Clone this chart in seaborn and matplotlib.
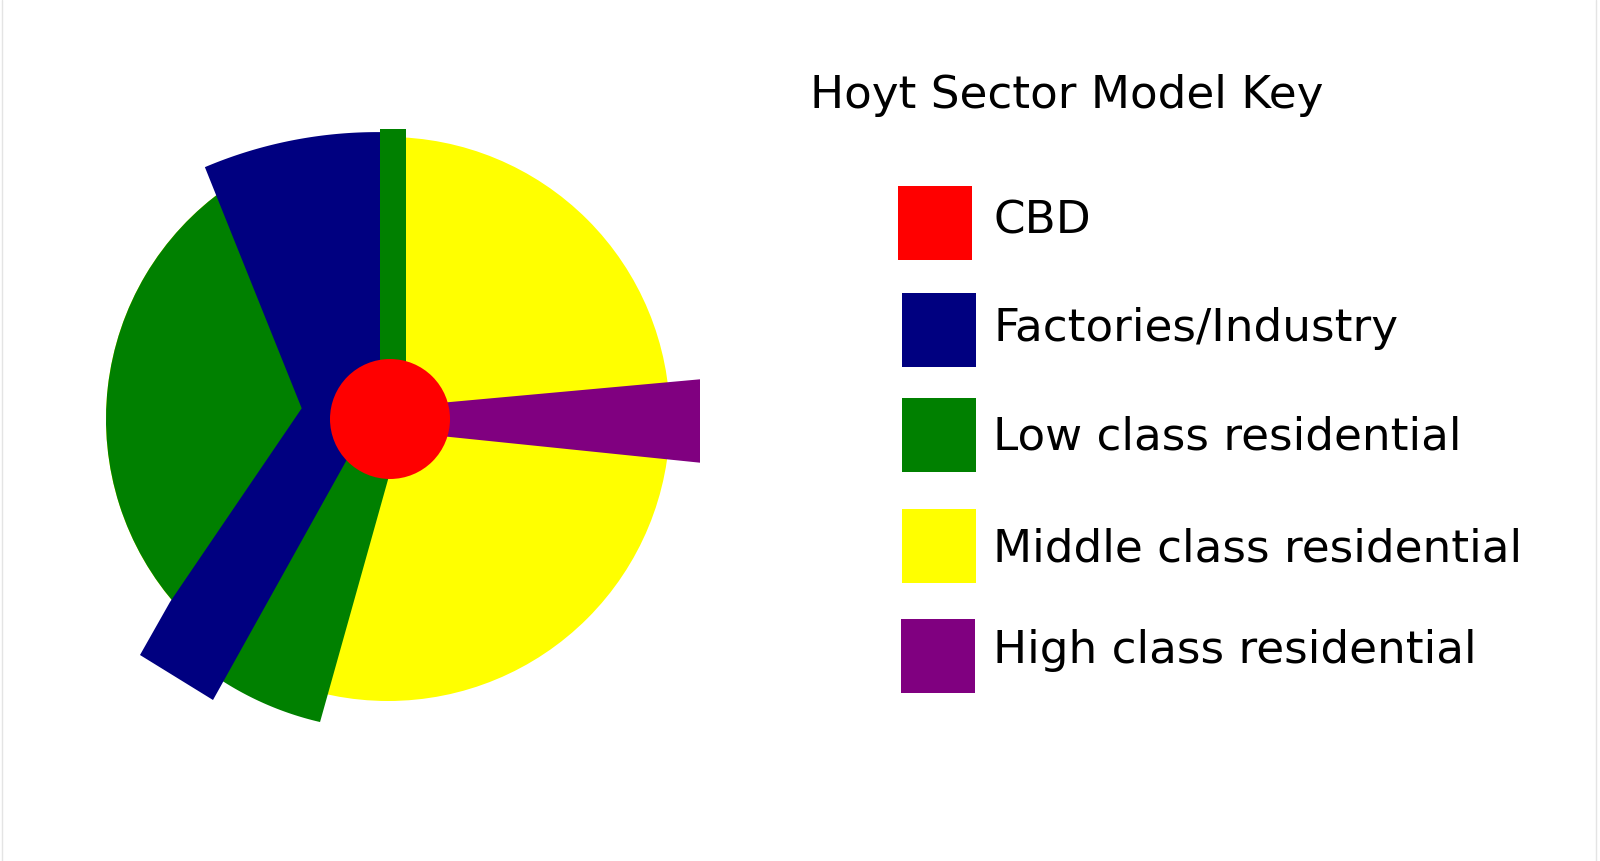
import numpy as np
import matplotlib
matplotlib.use("Agg")
import matplotlib.pyplot as plt
from matplotlib.patches import Wedge, Circle
from matplotlib.lines import Line2D
import seaborn as sns

sns.set_theme(style="white")
plt.rcParams["font.family"] = ["DejaVu Sans"]

# ---------------- data ----------------
title = "Hoyt Sector Model Key"
zone_names = ["CBD", "Factories/Industry", "Low class residential",
              "Middle class residential", "High class residential"]
zone_colors = ["#ff0000", "#000080", "#008000", "#ffff00", "#800080"]

# centre of the city (CBD) in pixel space (y measured downward)
centre_px = (390, 419)

# geometry, px relative to CBD centre (dy upward), angles in degrees ccw from east
cbd_radius = 60
city_offset_x = -2
city_radius = 282                     # middle class disk
low_west_theta = (125, 222)           # western low-class sector
low_strip_x = (-10, 16)               # thin low-class strip going north
low_strip_top = 290
low_south_inner_dx = (15, -40)        # inner ends of southern low-class wedge
low_south_theta = (236.5, 257)
low_south_radius = 311

# factories zone: northern edge is an arc (centre, radius, angle span)
factory_arc_centre = (-12.8, -154.1)
factory_arc_radius = 441
factory_arc_theta = (113.0, 89.6)
# remaining outline vertices of the factories zone (dx, dy)
factory_dx = [-10, -20.5, -177, -250, -220, -88.3]
factory_dy = [0, 0, -281, -236, -183, 10.7]

# high-class wedge outline (dx, dy)
high_dx = [0, 310, 310, 0]
high_dy = [11.5, 39.7, -43.7, -11.8]

# legend layout (pixels, y downward)
legend_box_x = [935, 938.5, 938.5, 939, 938]
legend_box_top = [186, 293.3, 398.3, 509, 619]
legend_box_size = 74
legend_text_x = 993
legend_text_baseline = [234, 340.7, 450, 561.7, 663.3]
title_x, title_baseline = 810, 108.3
font_pt = 32.6

# ---------------- figure ----------------
W, H = 1600, 861
fig = plt.figure(figsize=(W / 100, H / 100), dpi=100)
ax = fig.add_axes([0, 0, 1, 1])
ax.set_xlim(0, W)
ax.set_ylim(0, H)
ax.set_axis_off()

cx, cy = centre_px[0], H - centre_px[1]
col = dict(zip(zone_names, zone_colors))

# middle class disk
ax.add_patch(Circle((cx + city_offset_x, cy), city_radius,
                    color=col["Middle class residential"], lw=0, zorder=1))
# western low class sector
ax.add_patch(Wedge((cx + city_offset_x, cy), city_radius, *low_west_theta,
                   color=col["Low class residential"], lw=0, zorder=2))
# southern low class wedge
arc = np.radians(np.linspace(low_south_theta[1], low_south_theta[0], 40))
sx = np.r_[low_south_inner_dx[0], low_south_radius * np.cos(arc), low_south_inner_dx[1]]
sy = np.r_[0, low_south_radius * np.sin(arc), 0]
ax.fill(cx + sx, cy + sy, color=col["Low class residential"], lw=0, zorder=3)
# factories
farc = np.radians(np.linspace(*factory_arc_theta, 60))
fx = np.r_[factory_arc_centre[0] + factory_arc_radius * np.cos(farc), factory_dx]
fy = np.r_[factory_arc_centre[1] + factory_arc_radius * np.sin(farc), factory_dy]
ax.fill(cx + fx, cy + fy, color=col["Factories/Industry"], lw=0, zorder=4)
# high class
ax.fill(cx + np.array(high_dx), cy + np.array(high_dy),
        color=col["High class residential"], lw=0, zorder=5)
# thin northern low class strip
ax.bar(cx + (low_strip_x[0] + low_strip_x[1]) / 2, low_strip_top,
       width=low_strip_x[1] - low_strip_x[0], bottom=cy,
       color=col["Low class residential"], lw=0, zorder=6)
# CBD
ax.add_patch(Circle((cx, cy), cbd_radius, color=col["CBD"], lw=0, zorder=7))

# key
ax.text(title_x, H - title_baseline, title, fontsize=font_pt, va="baseline",
        ha="left", color="black")
for name, c, bx, bt, tb in zip(zone_names, zone_colors, legend_box_x,
                               legend_box_top, legend_text_baseline):
    ax.bar(bx, legend_box_size, width=legend_box_size,
           bottom=H - bt - legend_box_size, color=c, lw=0, zorder=3)
    ax.text(legend_text_x, H - tb, name, fontsize=font_pt, va="baseline",
            ha="left", color="black")

# faint frame lines at the edges
for lx in (1.5 / W, 1 - 4.0 / W):
    fig.add_artist(Line2D([lx, lx], [0, 1], color="#e4e4e4", lw=1))

fig.savefig("out.png", dpi=100, facecolor="white")
